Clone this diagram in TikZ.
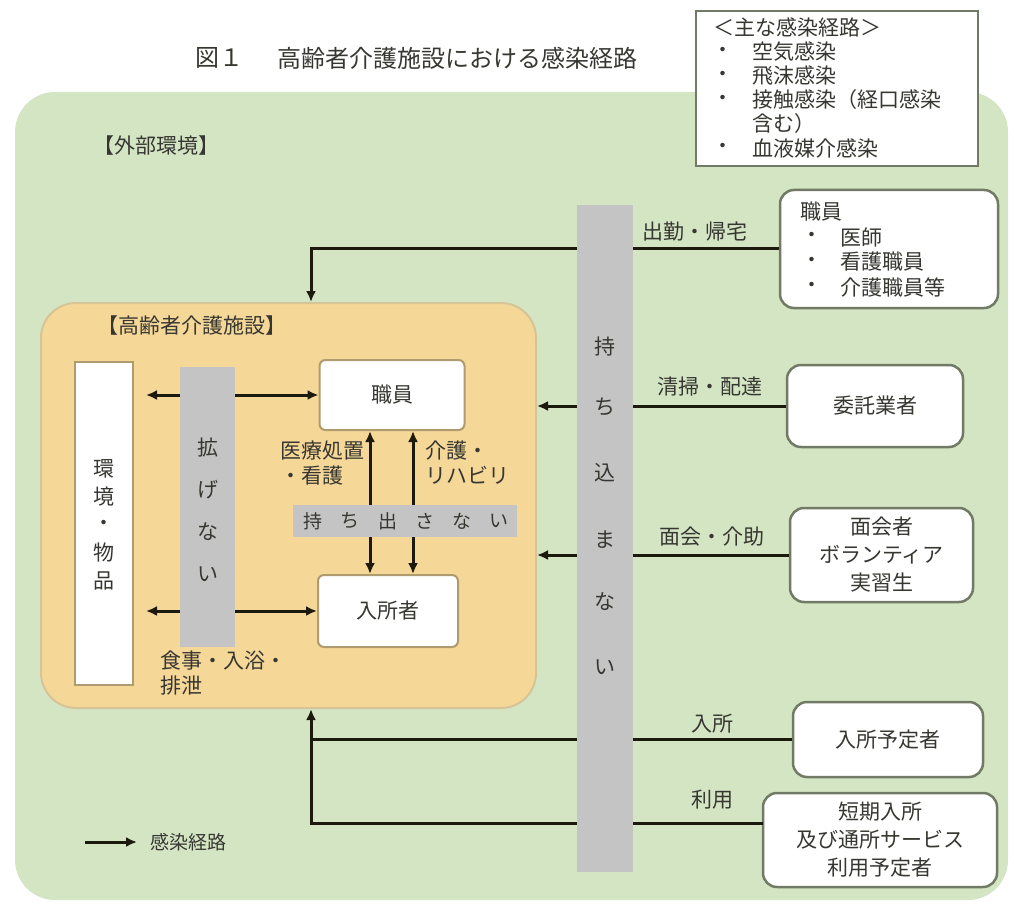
\documentclass[tikz,border=0pt]{standalone}
\usepackage{fontspec}
\setmainfont{Noto Sans CJK JP}
\usetikzlibrary{arrows.meta}
\definecolor{bggreen}{RGB}{212,229,196}
\definecolor{facc}{RGB}{245,215,152}
\definecolor{facb}{RGB}{214,196,150}
\definecolor{barc}{RGB}{196,196,196}
\definecolor{linec}{RGB}{28,26,12}
\definecolor{textc}{RGB}{55,55,50}
\definecolor{boxb}{RGB}{112,122,100}
\definecolor{inb}{RGB}{175,155,110}
\begin{document}
\begin{tikzpicture}[x=1pt,y=-1pt,
  txt/.style={font=\fontsize{21}{25}\selectfont, text=textc, inner sep=0pt},
  ttl/.style={font=\fontsize{24}{28}\selectfont, text=textc, inner sep=0pt},
  conn/.style={draw=linec, line width=3pt},
  tip/.style={-{Latex[length=11pt,width=10pt]}},
  dtip/.style={{Latex[length=11pt,width=10pt]}-{Latex[length=11pt,width=10pt]}},
  obox/.style={draw=boxb, line width=2.5pt, fill=white, rounded corners=14pt, inner sep=0pt, font=\fontsize{21}{28}\selectfont, text=textc, align=center},
  ibox/.style={draw=inb, line width=2pt, fill=white, rounded corners=6pt, inner sep=0pt, font=\fontsize{21}{25}\selectfont, text=textc},
  gbar/.style={fill=barc, inner sep=0pt}
]
\useasboundingbox (0,0) rectangle (1014,909);
% background
\fill[bggreen, rounded corners=40pt] (15,92) rectangle (1008,900);
% title
\node[ttl, anchor=west] (fig) at (195,58) {図１};
\node[ttl, anchor=west] (title) at (277,58) {高齢者介護施設における感染経路};
% legend box
\node[draw=boxb, line width=2pt, fill=white, minimum width=282pt, minimum height=155pt, anchor=north west, inner sep=0pt] (leg) at (695,10) {};
\node[txt, anchor=west] (l0) at (713,27) {＜主な感染経路＞};
\node[txt] (b1) at (723,52) {・};
\node[txt, anchor=west] (l1) at (752,52) {空気感染};
\node[txt] (b2) at (723,76) {・};
\node[txt, anchor=west] (l2) at (752,76) {飛沫感染};
\node[txt] (b3) at (723,100) {・};
\node[txt, anchor=west] (l3) at (752,100) {接触感染（経口感染};
\node[txt, anchor=west] (l4) at (752,124) {含む）};
\node[txt] (b5) at (723,148) {・};
\node[txt, anchor=west] (l5) at (752,148) {血液媒介感染};
% outer header
\node[txt, anchor=west] (outer) at (93,146) {【外部環境】};
% facility
\node[fill=facc, draw=facb, line width=2pt, rounded corners=35pt, minimum width=495pt, minimum height=405pt, anchor=north west, inner sep=0pt] (fac) at (40,302) {};
\node[txt, anchor=west] (fachead) at (97,326) {【高齢者介護施設】};
% inner boxes
\node[draw=inb, line width=2pt, fill=white, minimum width=58pt, minimum height=323pt, inner sep=0pt] (env) at (104,523.5) {};
\foreach \c/\yy [count=\i] in {環/469,境/497,・/525,物/553,品/581}
  \node[txt] (env\i) at (104,\yy) {\c};
\node[ibox, minimum width=145pt, minimum height=70pt] (staff) at (392,395) {職員};
\node[ibox, minimum width=140pt, minimum height=72pt] (resid) at (388,611) {入所者};
% inner arrows
\coordinate (va) at (370,0);
\coordinate (vb) at (413,0);
\draw[conn, dtip, shorten <=12pt] (env.east |- staff.west) -- (staff.west);
\draw[conn, dtip, shorten <=12pt] (env.east |- resid.west) -- (resid.west);
\node[gbar, minimum width=55pt, minimum height=280pt] (spread) at (207.5,507) {};
\foreach \c/\yy [count=\i] in {拡/448,げ/490,な/532,い/574}
  \node[txt] (sp\i) at (207.5,\yy) {\c};
\node[gbar, minimum width=224pt, minimum height=32pt] (takeout) at (405,521) {};
\foreach \c/\xx [count=\i] in {持/313,ち/350,出/388,さ/425,な/462,い/499}
  \node[txt, font=\fontsize{19}{22}\selectfont] (to\i) at (\xx,521) {\c};
\draw[conn, tip] (takeout.north -| va) -- (staff.south -| va);
\draw[conn, tip] (takeout.north -| vb) -- (staff.south -| vb);
\draw[conn, tip] (takeout.south -| va) -- (resid.north -| va);
\draw[conn, tip] (takeout.south -| vb) -- (resid.north -| vb);
\node[txt, align=left, anchor=north west] (lab1) at (280,441) {医療処置\\・看護};
\node[txt, align=left, anchor=north west] (lab2) at (425,441) {介護・\\リハビリ};
\node[txt, align=left, anchor=north west] (lab3) at (160,651) {食事・入浴・\\排泄};
% outer boxes
\node[obox, minimum width=218pt, minimum height=118pt] (so) at (889,249) {};
\node[txt, anchor=west] (so0) at (800,212) {職員};
\node[txt] (sob1) at (812,237) {・};
\node[txt, anchor=west] (so1) at (840,237) {医師};
\node[txt] (sob2) at (812,262) {・};
\node[txt, anchor=west] (so2) at (840,262) {看護職員};
\node[txt] (sob3) at (812,287) {・};
\node[txt, anchor=west] (so3) at (840,287) {介護職員等};
\node[obox, minimum width=176pt, minimum height=82pt] (co) at (875,406) {委託業者};
\node[obox, minimum width=183pt, minimum height=94pt] (vo) at (881.5,555) {面会者\\ボランティア\\実習生};
\node[obox, minimum width=190pt, minimum height=75pt] (no) at (888,739.5) {入所予定者};
\node[obox, minimum width=234pt, minimum height=94pt] (ss) at (880,840) {短期入所\\及び通所サービス\\利用予定者};
% outer connectors
\coordinate (jx) at (311,0);
\coordinate (ssin) at (763,823);
\draw[conn, tip] (so.west) -| (fac.north -| jx);
\draw[conn, tip] (co.west) -- (co.west -| fac.east);
\draw[conn, tip] (vo.west) -- (vo.west -| fac.east);
\draw[conn] (no.west) -- (no.west -| jx);
\draw[conn, tip] (ssin) -| (fac.south -| jx);
% bring-in bar
\node[gbar, minimum width=56pt, minimum height=667pt] (inbar) at (605,538.5) {};
\foreach \c/\yy [count=\i] in {持/347,ち/407,込/473,ま/540,な/602,い/667}
  \node[txt] (in\i) at (605,\yy) {\c};
% connector labels
\node[txt] (lb1) at (695,232) {出勤・帰宅};
\node[txt] (lb2) at (710,387) {清掃・配達};
\node[txt] (lb3) at (712,537) {面会・介助};
\node[txt] (lb4) at (712,724) {入所};
\node[txt] (lb5) at (712,800) {利用};
% legend
\coordinate (lga) at (85,842);
\coordinate (lgb) at (137,842);
\draw[conn, tip] (lga) -- (lgb);
\node[txt, font=\fontsize{19}{22}\selectfont, anchor=west] (lgt) at (150,842) {感染経路};
\end{tikzpicture}
\end{document}
